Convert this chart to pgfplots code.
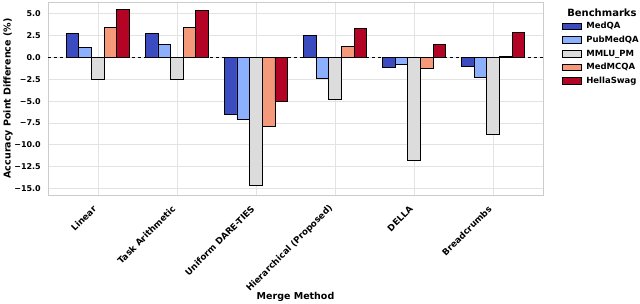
\documentclass[border=0pt]{standalone}
\usepackage{fontspec}
\setmainfont{DejaVu Sans}
\usepackage{pgfplots}
\pgfplotsset{compat=1.18}
\definecolor{cMedQA}{HTML}{3B4CC0}
\definecolor{cPubMed}{HTML}{8DB0FE}
\definecolor{cMMLU}{HTML}{DDDCDC}
\definecolor{cMedMCQA}{HTML}{F49A7B}
\definecolor{cHella}{HTML}{B40426}
\begin{document}
\begin{tikzpicture}
\begin{axis}[
  name=ax,
  scale only axis,
  width=495pt, height=193pt,
  clip=false,
  ybar=0pt, bar width=0.16,
  xmin=-0.63, xmax=5.63,
  ymin=-15.75, ymax=6.35,
  xtick={0,1,2,3,4,5},
  xticklabels={Linear,Task Arithmetic,Uniform DARE-TIES,Hierarchical (Proposed),DELLA,Breadcrumbs},
  xticklabel style={yshift=-15pt, xshift=-0.5pt, rotate=45, anchor=south east, inner sep=0pt, font=\bfseries\fontsize{8.8}{10}\selectfont},
  ytick={-15,-12.5,-10,-7.5,-5,-2.5,0,2.5,5},
  yticklabels={−15.0,−12.5,−10.0,−7.5,−5.0,−2.5,0.0,2.5,5.0},
  yticklabel style={font=\bfseries\fontsize{8}{9}\selectfont, anchor=east, inner sep=0pt, xshift=-7pt},
  major tick length=0pt,
  xmajorgrids, ymajorgrids,
  grid style={gray!22, line width=0.6pt},
  axis line style={gray!40, line width=0.8pt},
  ylabel={\bfseries Accuracy Point Difference (\%)},
  xlabel={\bfseries Merge Method},
  label style={font=\bfseries\fontsize{9.5}{11}\selectfont},
  ylabel style={at={(axis description cs:-0.0808,0.5)}, anchor=center},
  xlabel style={at={(axis description cs:0.5,-0.528)}, anchor=center},
  legend style={draw=none, fill=none, at={(1.038,0.896)}, anchor=north west,
    font=\bfseries\fontsize{8.5}{10}\selectfont, inner sep=0pt, row sep=5.7pt, column sep=4.5pt,
    nodes={inner sep=0pt, text height=6.5pt, text depth=1.5pt, anchor=west}},
  legend cell align=left,
  legend image code/.code={\draw[#1, line width=0.8pt] (0pt,-3.3pt) rectangle (19pt,3.3pt);},
  every axis plot/.append style={draw=black, line width=0.8pt},
]
\draw[black, dashed, line width=0.7pt] (axis cs:-0.63,0) -- (axis cs:5.63,0);
\addplot[fill=cMedQA] coordinates {(0,2.79) (1,2.79) (2,-6.47) (3,2.48) (4,-1.14) (5,-1.03)};
\addplot[fill=cPubMed] coordinates {(0,1.19) (1,1.45) (2,-7.12) (3,-2.36) (4,-0.83) (5,-2.24)};
\addplot[fill=cMMLU] coordinates {(0,-2.55) (1,-2.55) (2,-14.66) (3,-4.76) (4,-11.77) (5,-8.80)};
\addplot[fill=cMedMCQA] coordinates {(0,3.48) (1,3.48) (2,-7.89) (3,1.30) (4,-1.29) (5,0.08)};
\addplot[fill=cHella] coordinates {(0,5.53) (1,5.37) (2,-4.98) (3,3.31) (4,1.53) (5,2.90)};
\legend{MedQA,PubMedQA,MMLU\_PM,MedMCQA,HellaSwag}
\node[font=\bfseries\fontsize{10}{12}\selectfont] at (rel axis cs:1.119,0.943) {Benchmarks};
\end{axis}
\pgfresetboundingbox
\path ([shift={(-48pt,-109pt)}]ax.south west) rectangle ([shift={(97pt,2pt)}]ax.north east);
\end{tikzpicture}
\end{document}
